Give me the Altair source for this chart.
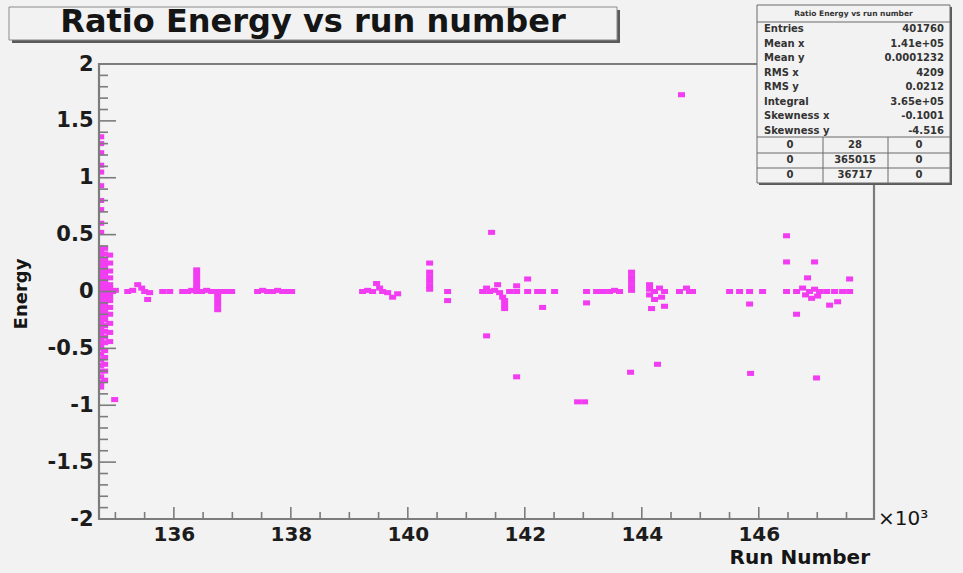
import altair as alt
import pandas as pd

# ---------------------------------------------------------------------------
# Energy ratio per run: dense block of early runs (three run columns)
# ---------------------------------------------------------------------------
EARLY_RUNS = [134749, 134817, 134903]
EARLY_ENERGY_A = [1.36, 1.30, 1.22, 1.11, 1.05, 0.93, 0.80, 0.72, 0.60, 0.52,
                  0.38, 0.34, 0.30, 0.26, 0.22, 0.18, 0.14, 0.10, 0.06, 0.03,
                  0.0, -0.03, -0.06, -0.10, -0.14, -0.18, -0.22, -0.26, -0.30,
                  -0.34, -0.38, -0.42, -0.46, -0.50, -0.55, -0.60, -0.65,
                  -0.70, -0.75, -0.80, -0.84]
EARLY_ENERGY_B = [0.38, 0.33, 0.28, 0.24, 0.20, 0.16, 0.12, 0.08, 0.04, 0.01,
                  -0.02, -0.05, -0.09, -0.13, -0.17, -0.21, -0.25, -0.30,
                  -0.35, -0.40, -0.45, -0.52, -0.58, -0.64, -0.70, -0.78]
EARLY_ENERGY_C = [0.32, 0.25, 0.18, 0.12, 0.06, 0.02, 0.0, -0.04, -0.08,
                  -0.14, -0.20, -0.28, -0.36, -0.44]

# Remaining runs
RUN = [134954, 135000, 134988,
       135211, 135296, 135382, 135450, 135501, 135552, 135586,
       135809, 135929,
       136151, 136236, 136305, 136390, 136390, 136390, 136390, 136390, 136390,
       136475, 136561, 136646, 136749, 136749, 136749, 136749, 136749,
       136817, 136903, 136988,
       137432, 137518, 137603, 137689, 137774, 137860, 137945, 138014,
       139227, 139313, 139398, 139466, 139518, 139569, 139655, 139740, 139826,
       140373, 140373, 140373, 140373, 140373, 140373, 140680, 140680,
       141347, 141432, 141279, 141347, 141399, 141484, 141535, 141569,
       141621, 141655, 141655, 141655, 141740,
       141860, 141860, 141860, 142048, 142048, 142219, 142304, 142304, 142509,
       142902, 143022,
       143056, 143056, 143227, 143330, 143449, 143535, 143620,
       143825, 143825, 143825, 143825, 143825, 143808,
       144133, 144133, 144133, 144167, 144218, 144218, 144303, 144338,
       144389, 144389, 144269,
       144645, 144765, 144816, 144867, 144679,
       145501, 145672, 145843, 145843, 146065, 145860,
       146475, 146475, 146475, 146646, 146646, 146749, 146800, 146834,
       146868, 146903, 146954, 146954, 147006, 147040, 146988,
       147160, 147211, 147296, 147348, 147433, 147553, 147553]
ENERGY = [0.0, 0.01, -0.95,
          0.0, 0.01, 0.06, 0.03, 0.0, -0.07, -0.01,
          0.0, 0.0,
          0.0, 0.0, 0.01, 0.19, 0.15, 0.11, 0.07, 0.03, 0.0,
          0.0, 0.01, 0.0, -0.04, -0.08, -0.12, -0.16, 0.0,
          0.0, 0.0, 0.0,
          0.0, 0.01, 0.0, 0.0, 0.01, 0.0, 0.0, 0.0,
          0.0, 0.01, 0.0, 0.07, 0.03, 0.0, -0.01, -0.05, -0.02,
          0.25, 0.17, 0.13, 0.09, 0.05, 0.02, 0.0, -0.08,
          -0.39, 0.52, 0.0, 0.03, 0.0, 0.01, 0.06, -0.01,
          -0.05, -0.08, -0.12, -0.15, 0.0,
          0.05, 0.0, -0.75, 0.11, 0.0, 0.0, 0.0, -0.14, 0.0,
          -0.97, -0.97,
          0.0, -0.10, 0.0, 0.0, 0.0, 0.01, 0.0,
          0.17, 0.13, 0.09, 0.05, 0.01, -0.71,
          0.06, 0.02, -0.03, -0.15, 0.0, -0.07, 0.03, -0.05,
          0.0, -0.13, -0.64,
          0.0, 0.03, 0.0, 0.0, 1.73,
          0.0, 0.0, 0.0, -0.11, 0.0, -0.72,
          0.49, 0.26, 0.0, -0.20, 0.0, 0.03, -0.03, 0.12,
          0.0, -0.06, 0.26, 0.02, -0.04, 0.0, -0.76,
          0.0, -0.12, 0.0, -0.09, 0.0, 0.11, 0.0]

# Statistics box contents
STATS_TITLE = "Ratio Energy vs run number"
STAT_NAMES = ["Entries", "Mean x", "Mean y", "RMS x", "RMS y", "Integral",
              "Skewness x", "Skewness y"]
STAT_VALUES = ["401760", "1.41e+05", "0.0001232", "4209", "0.0212",
               "3.65e+05", "-0.1001", "-4.516"]
OVERFLOW_TABLE = [["0", "28", "0"],
                  ["0", "365015", "0"],
                  ["0", "36717", "0"]]

X_DOMAIN = [134720, 147970]
Y_DOMAIN = [-2.0, 2.0]
X_LABELS = [136000, 138000, 140000, 142000, 144000, 146000]
Y_LABELS = [-2, -1.5, -1, -0.5, 0, 0.5, 1, 1.5, 2]

# ---------------------------------------------------------------------------
W, H = 775, 455
FONT = "DejaVu Sans"
FRAME = "#7c7c7c"
BG = "#f2f2f2"
MAGENTA = "#f23cf2"

rows = []
for run, vals in zip(EARLY_RUNS, [EARLY_ENERGY_A, EARLY_ENERGY_B, EARLY_ENERGY_C]):
    rows += [{"run": run, "energy": v} for v in vals]
rows += [{"run": r, "energy": e} for r, e in zip(RUN, ENERGY)]
points_df = pd.DataFrame(rows)

x_scale = alt.Scale(domain=X_DOMAIN, nice=False, zero=False)
y_scale = alt.Scale(domain=Y_DOMAIN, nice=False, zero=False)

# one axis definition shared by every layer on the data scales
x_axis = alt.Axis(
    values=X_LABELS, labelExpr="'' + datum.value / 1000", title=None,
    ticks=False, domain=False, grid=False, labelFont=FONT,
    labelFontSize=20, labelFontWeight="bold", labelColor="#1c1c1c",
    labelPadding=5, labelFlush=False)
y_axis = alt.Axis(
    values=Y_LABELS, labelExpr="'' + datum.value", title=None,
    ticks=False, domain=False, grid=False, labelFont=FONT,
    labelFontSize=21, labelFontWeight="bold", labelColor="#1c1c1c",
    labelPadding=6, labelFlush=False)

points = alt.Chart(points_df).mark_point(
    shape="M-1,-0.72L1,-0.72L1,0.72L-1,0.72Z", size=49, filled=True,
    color=MAGENTA, opacity=1, clip=True,
).encode(
    x=alt.X("run:Q", scale=x_scale, axis=x_axis, title=None),
    y=alt.Y("energy:Q", scale=y_scale, axis=y_axis, title=None),
)

# inward-pointing tick marks
y_major = pd.DataFrame({"v": [-2 + 0.5 * i for i in range(9)]})
y_minor = pd.DataFrame({"v": [round(-2 + 0.1 * i, 2) for i in range(41) if i % 5]})
x_major = pd.DataFrame({"v": list(range(136000, 148000, 2000))})
x_minor = pd.DataFrame({"v": [v for v in range(135000, 148000, 500) if v % 2000]})


def y_ticks(df, length):
    return alt.Chart(df).mark_rule(color=FRAME, strokeWidth=1.6).encode(
        y=alt.Y("v:Q", scale=y_scale, axis=y_axis, title=None),
        x=alt.value(0), x2=alt.value(length))


def x_ticks(df, length):
    return alt.Chart(df).mark_rule(color=FRAME, strokeWidth=1.6).encode(
        x=alt.X("v:Q", scale=x_scale, axis=x_axis, title=None),
        y=alt.value(H), y2=alt.value(H - length))


one = alt.Data(values=[{}])

frame = alt.Chart(one).mark_rect(filled=False, stroke=FRAME, strokeWidth=2.2).encode(
    x=alt.value(0), x2=alt.value(W), y=alt.value(0), y2=alt.value(H))

# title pave
title_shadow = alt.Chart(one).mark_rect(color="#5a5a5a").encode(
    x=alt.value(-87), x2=alt.value(521), y=alt.value(-54), y2=alt.value(-21))
title_box = alt.Chart(one).mark_rect(fill=BG, stroke="#8a8a8a", strokeWidth=1).encode(
    x=alt.value(-90), x2=alt.value(518), y=alt.value(-57), y2=alt.value(-24))
title_text = alt.Chart(one).mark_text(
    text="Ratio Energy vs run number", font=FONT, fontWeight="bold",
    fontSize=32, color="#151515", align="center", baseline="alphabetic",
).encode(x=alt.value(214), y=alt.value(-32))

# statistics pave
SX0, SX1, SY0, SY1 = 658, 851, -59, 119
stats_shadow = alt.Chart(one).mark_rect(color="#5a5a5a").encode(
    x=alt.value(SX0 + 2), x2=alt.value(SX1 + 2), y=alt.value(SY0 + 2), y2=alt.value(SY1 + 2))
stats_box = alt.Chart(one).mark_rect(fill=BG, stroke="#6a6a6a", strokeWidth=1).encode(
    x=alt.value(SX0), x2=alt.value(SX1), y=alt.value(SY0), y2=alt.value(SY1))

hlines = pd.DataFrame({"y": [-42, 73, 89, 104]})
stats_hlines = alt.Chart(hlines).mark_rule(color="#6a6a6a", strokeWidth=1).encode(
    y=alt.Y("y:Q", scale=None), x=alt.value(SX0), x2=alt.value(SX1))
vlines = pd.DataFrame({"x": [724, 789]})
stats_vlines = alt.Chart(vlines).mark_rule(color="#6a6a6a", strokeWidth=1).encode(
    x=alt.X("x:Q", scale=None), y=alt.value(73), y2=alt.value(SY1))

stats_header = alt.Chart(one).mark_text(
    text=STATS_TITLE, font=FONT, fontSize=7.5, fontWeight="bold",
    color="#333", align="center", baseline="middle",
).encode(x=alt.value((SX0 + SX1) / 2), y=alt.value(-50))

stat_rows = pd.DataFrame({
    "name": STAT_NAMES, "value": STAT_VALUES,
    "py": [-35 + 14.5 * i for i in range(len(STAT_NAMES))],
})
stat_names = alt.Chart(stat_rows).mark_text(
    font=FONT, fontSize=10, fontWeight="bold", color="#333",
    align="left", baseline="middle",
).encode(text="name:N", y=alt.Y("py:Q", scale=None), x=alt.value(SX0 + 7))
stat_values = alt.Chart(stat_rows).mark_text(
    font=FONT, fontSize=10, fontWeight="bold", color="#333",
    align="right", baseline="middle",
).encode(text="value:N", y=alt.Y("py:Q", scale=None), x=alt.value(SX1 - 6))

cells = []
for r, row in enumerate(OVERFLOW_TABLE):
    for c, txt in enumerate(row):
        cells.append({"t": txt, "px": [691, 756, 820][c], "py": 81 + 15 * r})
cell_text = alt.Chart(pd.DataFrame(cells)).mark_text(
    font=FONT, fontSize=10, fontWeight="bold", color="#333",
    align="center", baseline="middle",
).encode(text="t:N", x=alt.X("px:Q", scale=None), y=alt.Y("py:Q", scale=None))

# axis titles
y_title = alt.Chart(one).mark_text(
    text="Energy", font=FONT, fontWeight="bold", fontSize=18, angle=270,
    color="#151515", align="center", baseline="middle",
).encode(x=alt.value(-77), y=alt.value(230))
x_title = alt.Chart(one).mark_text(
    text="Run Number", font=FONT, fontWeight="bold", fontSize=20,
    color="#151515", align="right", baseline="alphabetic",
).encode(x=alt.value(771), y=alt.value(500))
x_exp = alt.Chart(one).mark_text(
    text="×10³", font=FONT, fontSize=20, color="#151515",
    align="left", baseline="alphabetic",
).encode(x=alt.value(779), y=alt.value(461))

chart = alt.layer(
    points,
    y_ticks(y_major, 17), y_ticks(y_minor, 9),
    x_ticks(x_major, 12), x_ticks(x_minor, 7),
    frame,
    title_shadow, title_box, title_text,
    stats_shadow, stats_box, stats_hlines, stats_vlines,
    stats_header, stat_names, stat_values, cell_text,
    y_title, x_title, x_exp,
).properties(
    width=W, height=H,
    padding={"left": 99, "top": 64, "right": 89, "bottom": 54},
    autosize=alt.AutoSizeParams(type="none"),
    background=BG,
).configure_view(stroke=None, fill="#f3f3f3")

chart.save("out.html", embed_options={"renderer": "svg", "actions": False})
